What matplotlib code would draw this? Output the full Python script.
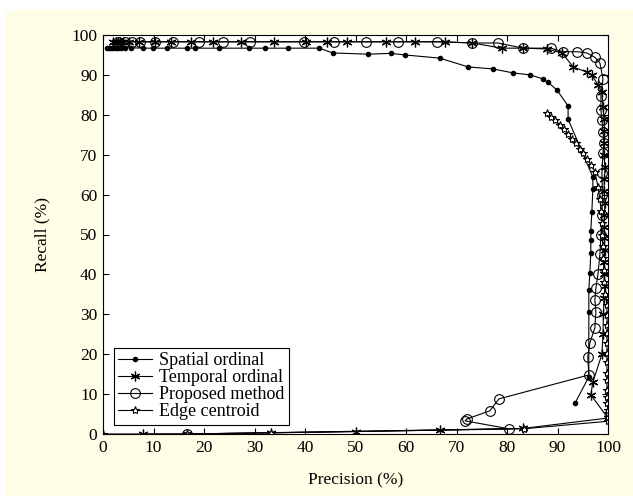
import matplotlib
matplotlib.use("Agg")
import matplotlib.pyplot as plt
from matplotlib.patches import Rectangle

plt.rcParams["font.family"] = ["Liberation Serif", "DejaVu Serif"]

# --- data (precision %, recall %) ---
spatial_x = [0.8, 1.2, 1.6, 2.0, 2.5, 3.0, 3.6, 4.4, 5.5, 7.9, 9.9, 12.7, 16.6, 18.2,
             23.0, 29.0, 32.0, 36.6, 42.8, 45.5, 52.5, 57.0, 59.8, 66.7, 72.3, 77.2,
             81.2, 84.6, 87.1, 88.1, 89.9, 92.1, 92.1, 97.0, 97.0, 96.8, 96.6, 96.6,
             96.6, 96.4, 96.2, 96.2, 96.2, 93.5]
spatial_y = [96.8, 96.8, 96.8, 96.8, 96.8, 96.8, 96.8, 96.8, 96.8, 96.7, 96.7, 96.7,
             96.7, 96.7, 96.7, 96.7, 96.7, 96.7, 96.7, 95.5, 95.2, 95.4, 95.0, 94.2,
             92.0, 91.5, 90.5, 90.0, 89.0, 88.2, 86.2, 82.2, 78.9, 64.4, 61.4, 55.6,
             51.0, 48.6, 45.4, 40.4, 36.0, 30.5, 14.3, 7.8]

temporal_x = [2.0, 2.5, 2.9, 3.4, 3.9, 5.1, 7.1, 10.2, 13.5, 17.4, 21.7, 27.3, 33.9,
              40.2, 44.3, 48.4, 56.0, 61.8, 67.7, 73.1, 79.0, 83.2, 87.9, 90.9, 93.1,
              95.8, 96.8, 98.0, 98.8, 99.0, 99.2, 99.3, 99.3, 99.2, 99.4, 99.3, 99.2,
              99.4, 99.3, 99.2, 99.3, 99.4, 99.2, 99.3, 99.4, 99.2, 99.1, 99.0, 98.8,
              97.0, 96.6, 100.0, 83.2, 66.7, 50.0, 33.3, 16.7, 8.0]
temporal_y = [98.3, 98.3, 98.3, 98.3, 98.3, 98.3, 98.3, 98.3, 98.3, 98.3, 98.3, 98.3,
              98.3, 98.3, 98.3, 98.3, 98.3, 98.3, 98.3, 98.0, 96.7, 96.7, 96.5, 95.5,
              92.0, 90.7, 90.0, 87.5, 85.7, 82.0, 79.0, 76.0, 73.0, 70.0, 67.0, 64.0,
              61.0, 58.0, 55.0, 52.0, 49.0, 46.0, 43.0, 40.0, 37.0, 34.0, 30.0, 25.0,
              20.0, 13.0, 9.8, 4.0, 1.4, 1.0, 0.6, 0.3, 0.0, 0.0]

proposed_x = [3.0, 4.4, 5.7, 7.3, 10.3, 13.8, 19.1, 23.7, 29.2, 39.9, 45.8, 52.1, 58.4,
              66.1, 73.1, 78.2, 83.2, 88.7, 91.1, 93.9, 95.8, 97.4, 98.4, 99.0, 98.6,
              98.6, 98.8, 99.0, 99.2, 99.0, 98.8, 98.9, 98.8, 98.6, 98.4, 98.0, 97.6,
              97.4, 97.6, 97.4, 96.4, 96.0, 96.2, 78.4, 76.6, 72.1, 71.7, 80.4, 16.7]
proposed_y = [98.3, 98.3, 98.3, 98.3, 98.3, 98.3, 98.3, 98.3, 98.3, 98.3, 98.3, 98.3,
              98.3, 98.3, 98.0, 98.0, 96.7, 96.7, 95.8, 95.8, 95.5, 94.4, 93.0, 89.0,
              84.7, 81.2, 78.7, 75.7, 72.9, 70.4, 65.4, 60.0, 55.0, 50.0, 45.0, 40.0,
              36.5, 33.6, 30.6, 26.6, 22.8, 19.3, 14.8, 8.8, 5.8, 3.8, 3.3, 1.3, 0.0]

edge_x = [0.0, 16.7, 33.3, 83.3, 100.0, 100.0, 100.0, 100.0, 99.8, 99.8, 99.8, 99.8,
          99.8, 99.8, 99.8, 99.8, 99.8, 99.8, 99.8, 99.8, 99.5, 99.3, 99.2, 99.0,
          99.0, 98.8, 98.8, 98.6, 98.4, 98.0, 97.4, 96.6, 95.8, 95.0, 94.4, 93.6,
          92.8, 92.0, 91.2, 90.5, 89.6, 88.8, 87.9]
edge_y = [0.0, 0.0, 0.3, 1.3, 3.2, 4.3, 5.3, 6.0, 7.8, 9.3, 11.0, 13.5, 15.3, 18.0,
          20.3, 22.8, 25.3, 27.3, 29.8, 32.3, 35.0, 38.0, 41.0, 44.0, 47.0, 50.0,
          53.0, 56.0, 59.0, 62.0, 65.7, 67.5, 69.0, 70.5, 71.5, 73.0, 74.0, 75.3,
          76.5, 77.5, 78.6, 79.5, 80.5]

labels = ["Spatial ordinal", "Temporal ordinal", "Proposed method", "Edge centroid"]
x_ticks = list(range(0, 101, 10))
y_ticks = list(range(0, 101, 10))

fig = plt.figure(figsize=(6.33, 4.96), dpi=100)
fig.patch.set_facecolor("white")
# pale yellow panel behind the plot (white strip on top and left)
fig.patches.append(Rectangle((6 / 633, 0), 1, (496 - 10) / 496, transform=fig.transFigure,
                             facecolor="#fefee6", edgecolor="none", zorder=-10))

ax = fig.add_axes([103 / 633, (496 - 434) / 496, 505 / 633, 399 / 496])
ax.set_facecolor("white")

lw = 0.8
ax.plot(spatial_x, spatial_y, color="k", lw=lw, marker="o", ms=3, label=labels[0])
ax.plot(temporal_x, temporal_y, color="k", lw=lw, marker=(6, 2, 0), ms=7, mew=0.9,
        label=labels[1])
ax.plot(proposed_x, proposed_y, color="k", lw=lw, marker="o", ms=7, mfc="none", mew=0.8,
        label=labels[2])
ax.plot(edge_x, edge_y, color="k", lw=lw, marker="*", ms=6, mfc="white", mew=0.8,
        label=labels[3])

ax.set_xlim(0, 100)
ax.set_ylim(0, 100)
ax.set_xticks(x_ticks)
ax.set_yticks(y_ticks)
ax.tick_params(direction="in", length=4, width=0.8, top=True, right=True,
               labelsize=12.5, pad=4)
for s in ax.spines.values():
    s.set_linewidth(0.8)

ax.set_xlabel("Precision (%)", fontsize=12.5, labelpad=12)
ax.set_ylabel("Recall (%)", fontsize=12.5, labelpad=15)

leg = ax.legend(loc="lower left", bbox_to_anchor=(0.003, 0.0), fontsize=13,
                handlelength=1.9, handletextpad=0.35, borderpad=0.25, labelspacing=0.0,
                fancybox=False, framealpha=1, edgecolor="k")
leg.get_frame().set_linewidth(0.8)

fig.savefig("out.png", dpi=100)
